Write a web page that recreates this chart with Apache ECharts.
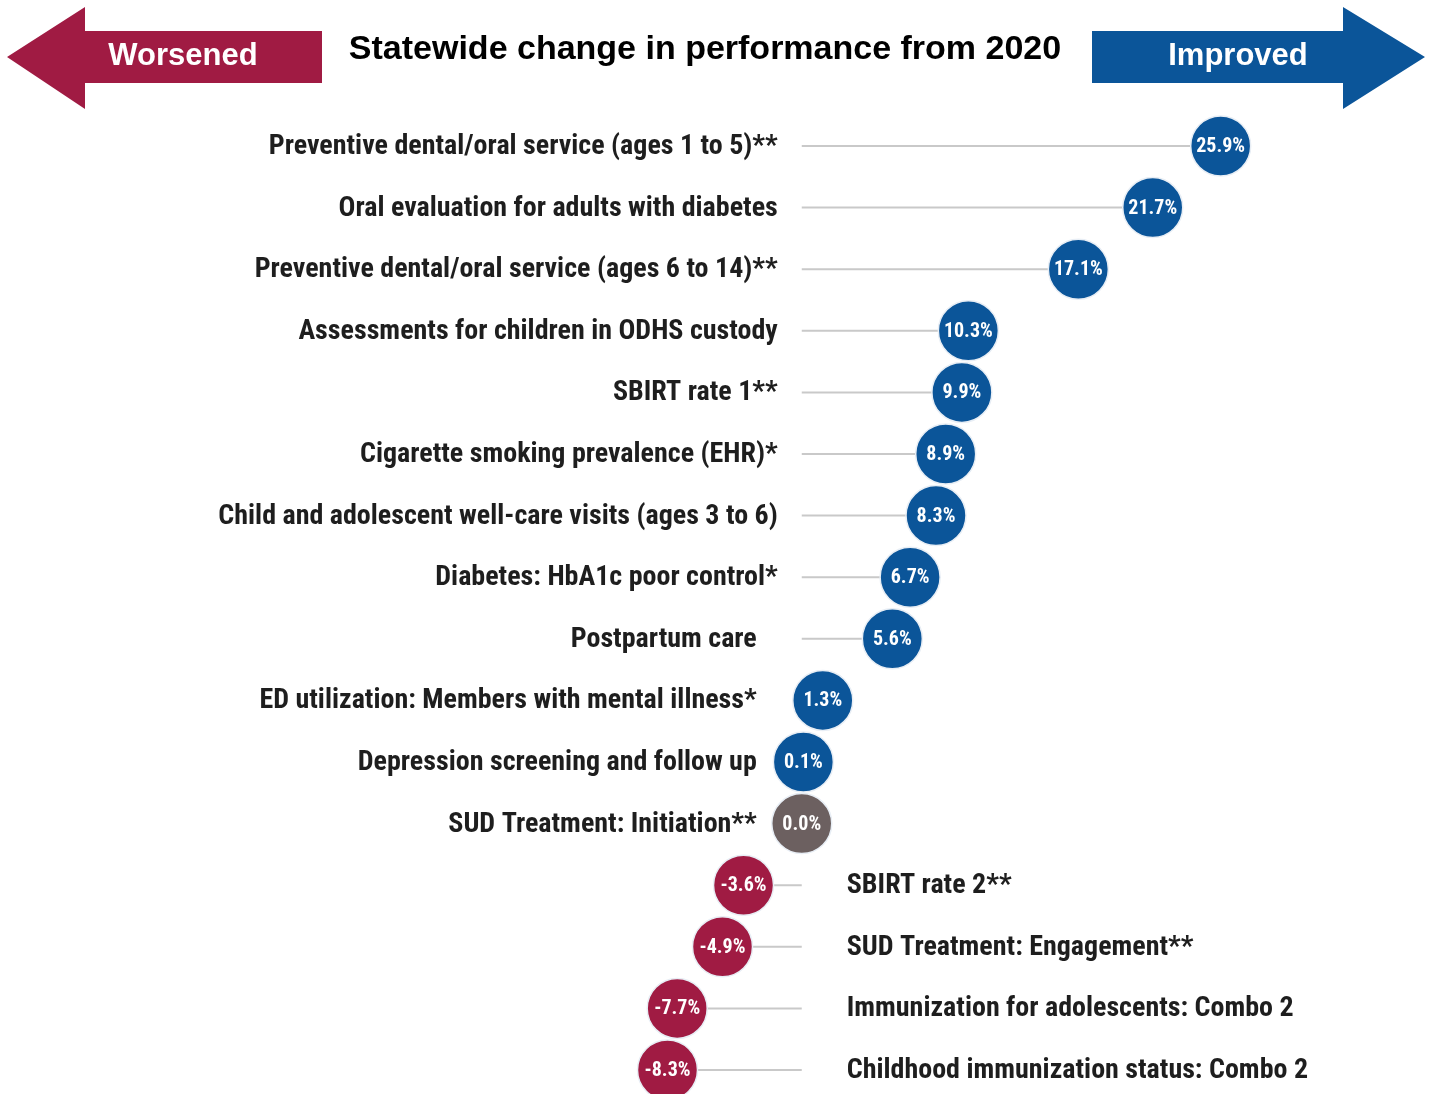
<!DOCTYPE html>
<html>
<head>
<meta charset="utf-8">
<script src="https://cdn.jsdelivr.net/npm/echarts@6/dist/echarts.min.js"></script>
<style>
html,body{margin:0;padding:0;background:#fff;}
#chart{width:1437px;height:1094px;}
</style>
</head>
<body>
<div id="chart"></div>
<script>
const categories = [
  'Preventive dental/oral service (ages 1 to 5)**',
  'Oral evaluation for adults with diabetes',
  'Preventive dental/oral service (ages 6 to 14)**',
  'Assessments for children in ODHS custody',
  'SBIRT rate 1**',
  'Cigarette smoking prevalence (EHR)*',
  'Child and adolescent well-care visits (ages 3 to 6)',
  'Diabetes: HbA1c poor control*',
  'Postpartum care',
  'ED utilization: Members with mental illness*',
  'Depression screening and follow up',
  'SUD Treatment: Initiation**',
  'SBIRT rate 2**',
  'SUD Treatment: Engagement**',
  'Immunization for adolescents: Combo 2',
  'Childhood immunization status: Combo 2'
];
const values = [25.9, 21.7, 17.1, 10.3, 9.9, 8.9, 8.3, 6.7, 5.6, 1.3, 0.1, 0.0, -3.6, -4.9, -7.7, -8.3];
const titleText = 'Statewide change in performance from 2020';
const worseLabel = 'Worsened';
const betterLabel = 'Improved';

const BLUE = '#0b5599', RED = '#a01b43', GRAY = '#6c6060';
const NARROW = '"Roboto Condensed", "Arial Narrow", sans-serif';

const chart = echarts.init(document.getElementById('chart'), null, {renderer: 'canvas'});

function renderItem(params, api) {
  const v = api.value(0);
  const idx = api.value(1);
  const p0 = api.coord([0, idx]);
  const p = api.coord([v, idx]);
  const color = v > 0 ? BLUE : (v < 0 ? RED : GRAY);
  const labelOffset = v < 6 ? 45 : 24;
  const children = [
    {type: 'line', shape: {x1: p0[0], y1: p0[1], x2: p[0], y2: p[1]},
     style: {stroke: '#c9c9c9', lineWidth: 2}},
    {type: 'circle', shape: {cx: p[0], cy: p[1], r: 30},
     style: {fill: color, stroke: '#e8eef5', lineWidth: 1.5}},
    {type: 'text', x: p[0], y: p[1] + 1,
     style: {text: v.toFixed(1) + '%', fill: '#ffffff', font: 'bold 20px ' + NARROW,
             align: 'center', verticalAlign: 'middle'}},
    {type: 'text', x: v >= 0 ? p0[0] - labelOffset : p0[0] + labelOffset, y: p0[1] + 1,
     style: {text: categories[idx], fill: '#1e1e1e', font: 'bold 28px ' + NARROW,
             align: v >= 0 ? 'right' : 'left', verticalAlign: 'middle'}}
  ];
  return {type: 'group', children: children};
}

chart.setOption({
  animation: false,
  grid: {left: 640, width: 647, top: 146, height: 924},
  xAxis: {type: 'value', min: -10, max: 30, show: false},
  yAxis: {type: 'category', data: categories, inverse: true, boundaryGap: false, show: false},
  graphic: [
    {type: 'polygon', shape: {points: [[7,57],[85,7],[85,31],[322,31],[322,83],[85,83],[85,109]]},
     style: {fill: RED}},
    {type: 'text', x: 183, y: 56, style: {text: worseLabel, fill: '#fff', font: 'bold 31px "Liberation Sans", Arial, sans-serif', align: 'center', verticalAlign: 'middle'}},
    {type: 'polygon', shape: {points: [[1425,57],[1343,7],[1343,31],[1092,31],[1092,83],[1343,83],[1343,109]]},
     style: {fill: BLUE}},
    {type: 'text', x: 1238, y: 56, style: {text: betterLabel, fill: '#fff', font: 'bold 31px "Liberation Sans", Arial, sans-serif', align: 'center', verticalAlign: 'middle'}},
    {type: 'text', x: 705, y: 50, style: {text: titleText, fill: '#000', font: 'bold 34px "Liberation Sans", Arial, sans-serif', align: 'center', verticalAlign: 'middle'}}
  ],
  series: [{
    type: 'custom',
    renderItem: renderItem,
    clip: false,
    encode: {x: 0, y: 1},
    data: values.map((v, i) => [v, i])
  }]
});
</script>
</body>
</html>
